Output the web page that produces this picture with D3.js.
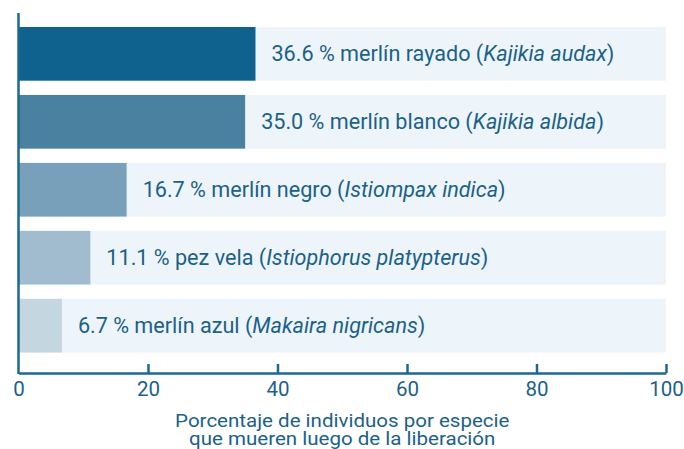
<!DOCTYPE html>
<html>
<head>
<meta charset="utf-8">
<script src="https://cdn.jsdelivr.net/npm/d3@7"></script>
<style>
  body { margin: 0; background: #fff; }
  text { font-family: Roboto, "Noto Sans", sans-serif; fill: #1b6189; }
</style>
</head>
<body>
<div id="chart"></div>
<script>
// share of released fish that die, by species
const values = [36.6, 35.0, 16.7, 11.1, 6.7];
const commonNames = ["merlín rayado", "merlín blanco", "merlín negro", "pez vela", "merlín azul"];
const sciNames = ["Kajikia audax", "Kajikia albida", "Istiompax indica", "Istiophorus platypterus", "Makaira nigricans"];
const barColors = ["#10628e", "#4a80a0", "#78a0ba", "#a1bccf", "#c4d6e0"];
const xTicks = [0, 20, 40, 60, 80, 100];
const axisTitle = ["Porcentaje de individuos por especie", "que mueren luego de la liberación"];

const width = 684, height = 449,
    margin = ({ top: 27, right: 18, bottom: 96, left: 18.5 });

const svg = d3.select("#chart")
  .append("svg")
  .attr("width", width)
  .attr("height", height);

const x = d3.scaleLinear()
  .domain([0, 100])
  .range([margin.left, 666]);

const y = d3.scaleBand()
  .domain(d3.range(values.length))
  .range([margin.top, 352.5])
  .paddingInner(0.21)
  .paddingOuter(0);

const axisY = 373;

// light background track
svg.append("g")
  .selectAll("rect")
  .data(values)
  .join("rect")
    .attr("x", x(0))
    .attr("y", (d, i) => y(i))
    .attr("width", x(100) - x(0))
    .attr("height", y.bandwidth())
    .attr("fill", "#eef5fa");

svg.append("g")
  .selectAll("rect")
  .data(values)
  .join("rect")
    .attr("x", x(0))
    .attr("y", (d, i) => y(i))
    .attr("width", d => x(d) - x(0))
    .attr("height", y.bandwidth())
    .attr("fill", (d, i) => barColors[i]);

const labels = svg.append("g")
  .selectAll("text")
  .data(values)
  .join("text")
    .attr("x", d => x(d) + 16)
    .attr("y", (d, i) => y(i) + y.bandwidth() / 2)
    .attr("dy", "0.35em")
    .attr("font-size", 21.6);

labels.append("tspan").text((d, i) => d.toFixed(1) + " % " + commonNames[i] + " (");
labels.append("tspan").attr("font-style", "italic").text((d, i) => sciNames[i]);
labels.append("tspan").text(")");

// x axis, ticks point up
const xAxis = svg.append("g")
  .attr("transform", `translate(0,${axisY})`)
  .call(d3.axisBottom(x).tickValues(xTicks).tickSize(-9).tickPadding(0).tickSizeOuter(0));

xAxis.select(".domain").attr("stroke", "#1d6890").attr("stroke-width", 2.5);
xAxis.selectAll(".tick line").attr("stroke", "#1d6890").attr("stroke-width", 2.5)
  .attr("display", d => d === 0 ? "none" : null);
xAxis.selectAll(".tick text")
  .attr("font-family", "Roboto, sans-serif")
  .attr("font-size", 20.5)
  .attr("fill", "#1b6189")
  .attr("y", 23)
  .attr("dy", null);

// y axis line
svg.append("line")
  .attr("x1", x(0)).attr("x2", x(0))
  .attr("y1", 13).attr("y2", axisY + 1)
  .attr("stroke", "#1d6890")
  .attr("stroke-width", 2.5);

// axis title, the source font is set a bit wide
svg.append("text")
  .attr("text-anchor", "middle")
  .attr("font-size", 18)
  .attr("transform", `translate(${(x(0) + x(100)) / 2},0) scale(1.14,1)`)
  .selectAll("tspan")
  .data(axisTitle)
  .join("tspan")
    .attr("x", 0)
    .attr("y", (d, i) => 427.5 + i * 17.8)
    .text(d => d);
</script>
</body>
</html>
